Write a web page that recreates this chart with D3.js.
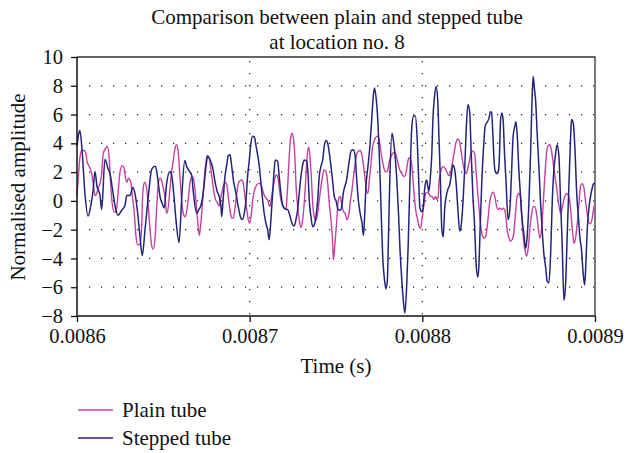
<!DOCTYPE html>
<html>
<head>
<meta charset="utf-8">
<script src="https://cdn.jsdelivr.net/npm/d3@7/dist/d3.min.js"></script>
<style>
  html, body { margin: 0; padding: 0; background: #fff; }
  svg { display: block; }
  text { font-family: "Liberation Serif", "Times New Roman", serif; fill: #111; }
</style>
</head>
<body>
<svg id="chart" width="627" height="453"></svg>
<script>
// Plain tube: time (microseconds) and normalised amplitude
const plainTimeUs = [
  8600.0, 8600.8, 8601.7, 8602.7, 8604.1, 8605.2, 8605.8, 8607.1, 8608.5, 8609.4,
  8610.4, 8611.4, 8612.3, 8613.3, 8614.3, 8615.2, 8616.6, 8617.5, 8618.7, 8619.5,
  8620.4, 8621.8, 8623.0, 8623.9, 8624.9, 8626.2, 8627.2, 8628.2, 8629.0, 8629.7,
  8630.7, 8631.3, 8632.0, 8633.0, 8634.2, 8635.1, 8636.5, 8637.5, 8638.0, 8638.8,
  8639.4, 8640.4, 8641.3, 8642.3, 8643.3, 8644.2, 8645.2, 8646.1, 8647.1, 8648.1,
  8649.0, 8650.0, 8651.0, 8651.9, 8652.9, 8653.8, 8654.8, 8655.8, 8656.7, 8657.7,
  8658.7, 8659.6, 8660.6, 8661.5, 8662.5, 8663.5, 8664.4, 8665.4, 8666.4, 8667.3,
  8668.3, 8669.3, 8670.2, 8670.8, 8671.6, 8672.5, 8673.5, 8674.5, 8675.4, 8676.6,
  8677.4, 8678.3, 8679.3, 8680.3, 8681.2, 8682.4, 8682.8, 8683.8, 8684.7, 8685.7,
  8686.7, 8687.6, 8688.6, 8689.6, 8690.5, 8691.5, 8692.5, 8693.4, 8694.4, 8695.4,
  8696.3, 8697.3, 8698.3, 8699.2, 8700.0, 8700.9, 8701.7, 8702.7, 8703.6, 8705.0,
  8706.5, 8707.5, 8708.4, 8709.4, 8710.4, 8711.7, 8712.7, 8713.7, 8714.6, 8715.6,
  8716.4, 8717.1, 8718.1, 8719.1, 8720.0, 8721.0, 8721.4, 8722.0, 8722.6, 8723.3,
  8723.9, 8724.5, 8725.5, 8726.2, 8726.8, 8727.8, 8728.7, 8729.7, 8730.7, 8731.6,
  8732.6, 8733.3, 8734.2, 8734.9, 8735.7, 8736.5, 8737.4, 8738.4, 8739.4, 8740.3,
  8741.3, 8742.3, 8743.2, 8744.2, 8745.2, 8746.1, 8747.1, 8748.1, 8748.5, 8749.4,
  8750.4, 8751.3, 8752.5, 8753.4, 8754.4, 8755.3, 8756.3, 8757.5, 8758.2, 8759.2,
  8760.2, 8761.0, 8762.0, 8762.9, 8764.0, 8765.0, 8766.0, 8766.8, 8767.7, 8768.5,
  8769.2, 8770.2, 8771.0, 8772.0, 8772.9, 8774.1, 8775.0, 8776.0, 8777.0, 8777.9,
  8778.9, 8779.9, 8780.8, 8781.8, 8782.8, 8784.0, 8784.9, 8785.9, 8786.8, 8787.8,
  8788.8, 8789.7, 8790.7, 8791.6, 8792.6, 8793.4, 8794.4, 8795.3, 8796.3, 8797.3,
  8798.2, 8799.0, 8799.9, 8800.9, 8801.9, 8802.8, 8803.8, 8804.8, 8805.7, 8806.7,
  8807.7, 8808.6, 8809.2, 8809.6, 8810.4, 8811.3, 8812.3, 8813.5, 8814.6, 8815.8,
  8816.7, 8817.7, 8818.7, 8819.6, 8820.6, 8821.6, 8822.5, 8823.5, 8824.5, 8825.4,
  8826.4, 8827.4, 8828.3, 8829.3, 8830.3, 8831.2, 8832.2, 8833.2, 8834.1, 8835.1,
  8836.1, 8837.0, 8838.0, 8839.0, 8839.9, 8841.0, 8842.0, 8843.0, 8843.9, 8844.9,
  8845.9, 8846.8, 8847.6, 8848.4, 8849.1, 8850.0, 8850.9, 8852.0, 8853.0, 8854.0,
  8854.9, 8855.9, 8856.7, 8857.5, 8858.4, 8859.4, 8860.4, 8861.3, 8862.3, 8863.3,
  8864.2, 8865.0, 8865.9, 8866.9, 8868.1, 8869.1, 8870.0, 8871.0, 8872.0, 8872.9,
  8873.9, 8874.9, 8875.8, 8876.8, 8877.8, 8878.7, 8880.1, 8881.0, 8882.0, 8883.0,
  8883.9, 8884.9, 8885.9, 8886.8, 8887.8, 8888.7, 8889.7, 8890.7, 8891.6, 8892.6,
  8893.6, 8894.5, 8895.5, 8896.4, 8897.4, 8898.4, 8899.3, 8900.0
];
const plainAmp = [
  0.3, 1.7, 3.0, 3.5, 3.5, 3.3, 2.75, 2.4, 1.9, 1.2,
  0.37, 0.5, 0.9, 1.2, 1.9, 3.3, 3.65, 3.8, 2.85, 1.2,
  -0.2, -0.8, -0.5, 0.7, 2.0, 2.45, 2.3, 1.5, 1.3, 1.6,
  1.45, 1.2, 0.4, -0.6, -2.5, -3.05, -3.0, -1.6, 0.3, 1.2,
  1.3, 0.8, -0.4, -2.0, -3.15, -3.35, -2.6, -0.6, 1.2, 1.6,
  1.4, 0.9, 0.2, -0.86, -0.4, 0.8, 2.0, 2.85, 3.6, 3.9,
  3.35, 1.7, 0.07, -0.86, -1.1, -0.75, 0.07, 1.2, 1.7, 1.6,
  0.8, -0.6, -1.8, -2.4, -1.7, -0.4, 1.2, 2.5, 3.15, 3.0,
  2.3, 1.5, 0.65, 0.07, -0.1, -0.35, -0.05, 0.5, 1.0, 1.3,
  1.15, 0.3, -0.6, -1.2, -1.2, -0.5, 0.5, 1.2, 1.4, 1.45,
  1.2, 0.3, -0.6, -1.3, -1.55, -1.0, 0.0, 0.7, 1.0, 1.2,
  1.2, 0.75, 0.4, 0.2, 0.07, -0.4, 0.3, 1.0, 1.6, 1.8,
  1.55, 0.95, 0.07, -0.3, -0.5, -0.6, -0.15, 1.0, 2.4, 3.8,
  4.5, 4.7, 4.2, 3.05, 1.2, -0.4, -1.3, -1.85, -1.3, -0.15,
  1.7, 3.1, 3.75, 3.1, 1.7, -0.15, -1.1, -1.35, -0.86, 0.07,
  1.0, 1.8, 2.15, 2.05, 1.2, -0.15, -1.3, -2.95, -4.1, -2.95,
  -1.45, 0.07, 0.3, -0.3, -0.75, -0.86, -1.3, -0.9, -0.1, 0.7,
  1.7, 2.5, 3.25, 3.45, 3.5, 3.2, 2.4, 1.6, 0.65, 0.53,
  1.3, 2.5, 3.6, 4.15, 4.4, 4.5, 4.25, 3.4, 2.7, 2.2,
  2.0, 2.1, 2.7, 3.05, 3.3, 3.4, 3.1, 2.65, 2.2, 1.95,
  1.75, 1.7, 2.05, 2.75, 3.0, 2.85, 1.8, 0.4, -0.75, -1.3,
  -1.8, -1.9, -1.2, -0.3, 0.5, 0.6, 0.5, 0.3, 0.3, 0.1,
  0.3, 0.1, 0.3, 1.2, 1.9, 2.3, 2.4, 2.2, 1.9, 1.75,
  2.15, 2.85, 3.55, 4.1, 4.3, 4.1, 3.4, 2.6, 2.1, 1.9,
  2.3, 2.85, 3.4, 3.45, 3.3, 1.9, 0.4, -1.0, -2.0, -2.5,
  -2.6, -2.3, -1.3, -0.1, 0.4, 0.6, 0.3, -0.4, -0.6, -0.5,
  -0.6, -0.5, -0.6, -1.1, -2.0, -2.5, -2.8, -2.7, -2.2, -0.8,
  0.3, 0.53, 0.3, -1.0, -2.4, -3.4, -3.85, -3.3, -1.9, -0.9,
  -0.4, -0.4, -0.7, -1.6, -2.6, -1.9, -0.2, 1.8, 3.4, 3.85,
  3.9, 3.4, 2.6, 1.7, 0.9, 0.0, -0.86, -0.5, 0.1, 0.45,
  0.5, 0.3, -0.6, -1.9, -2.95, -2.6, -1.6, -0.2, 1.0, 1.2,
  0.9, 0.0, -0.9, -1.5, -1.6, -1.2, -0.5, -0.2
];

// Stepped tube: time (microseconds) and normalised amplitude
const steppedTimeUs = [
  8600.0, 8600.9, 8601.7, 8602.9, 8604.6, 8606.4, 8607.9, 8609.4, 8610.4, 8611.6,
  8613.3, 8614.3, 8616.2, 8618.1, 8619.1, 8620.8, 8622.3, 8623.7, 8625.9, 8627.8,
  8628.8, 8630.7, 8632.3, 8633.6, 8634.9, 8636.5, 8637.8, 8639.4, 8641.3, 8643.3,
  8645.2, 8646.1, 8647.1, 8648.1, 8649.4, 8650.5, 8651.9, 8653.8, 8654.8, 8655.8,
  8657.3, 8659.1, 8660.6, 8662.4, 8663.5, 8665.4, 8666.4, 8667.3, 8669.3, 8670.6,
  8671.8, 8672.8, 8673.7, 8674.7, 8675.7, 8677.0, 8678.6, 8679.9, 8681.2, 8682.4,
  8683.4, 8683.8, 8684.7, 8685.7, 8686.7, 8687.6, 8688.6, 8689.6, 8690.5, 8692.1,
  8693.4, 8694.4, 8695.7, 8696.9, 8697.9, 8698.8, 8699.8, 8700.7, 8701.7, 8702.7,
  8703.6, 8704.6, 8705.6, 8706.5, 8707.5, 8708.4, 8709.4, 8710.4, 8711.3, 8712.3,
  8713.3, 8714.2, 8714.8, 8716.2, 8717.1, 8718.1, 8719.1, 8720.0, 8721.0, 8722.0,
  8722.9, 8723.9, 8724.9, 8725.8, 8726.8, 8727.8, 8728.7, 8729.7, 8730.7, 8731.6,
  8733.0, 8733.9, 8734.5, 8735.5, 8736.5, 8737.4, 8738.4, 8739.4, 8740.3, 8741.3,
  8742.3, 8743.2, 8744.2, 8745.2, 8746.1, 8747.1, 8748.1, 8749.0, 8750.0, 8751.3,
  8752.5, 8753.3, 8754.2, 8756.2, 8757.7, 8758.8, 8760.0, 8761.0, 8762.0, 8762.9,
  8763.9, 8765.0, 8765.9, 8766.6, 8767.3, 8768.5, 8769.7, 8770.6, 8771.6, 8772.3,
  8773.1, 8774.3, 8775.3, 8776.2, 8777.2, 8778.2, 8778.9, 8779.7, 8780.5, 8781.2,
  8782.4, 8783.0, 8784.0, 8785.3, 8786.3, 8787.0, 8788.0, 8788.9, 8789.9, 8790.9,
  8791.8, 8792.8, 8794.0, 8795.0, 8795.9, 8796.9, 8797.8, 8798.6, 8799.6, 8800.3,
  8801.5, 8802.5, 8803.2, 8803.8, 8804.8, 8805.5, 8806.1, 8807.1, 8808.0, 8809.0,
  8809.6, 8810.4, 8811.3, 8812.1, 8812.9, 8813.8, 8814.8, 8815.8, 8816.7, 8817.7,
  8818.7, 8819.6, 8820.6, 8821.6, 8822.5, 8823.5, 8824.5, 8825.4, 8826.4, 8827.4,
  8828.3, 8829.3, 8830.3, 8831.2, 8832.2, 8832.8, 8833.5, 8834.5, 8835.5, 8836.4,
  8837.4, 8838.5, 8839.5, 8840.1, 8840.9, 8841.4, 8842.2, 8843.2, 8844.2, 8844.7,
  8845.3, 8846.1, 8846.8, 8847.6, 8848.4, 8849.7, 8850.7, 8851.5, 8852.6, 8853.6,
  8854.2, 8854.9, 8855.9, 8856.9, 8857.8, 8858.8, 8859.8, 8860.7, 8861.7, 8862.7,
  8863.6, 8864.2, 8865.0, 8865.6, 8866.5, 8867.5, 8868.5, 8869.4, 8870.4, 8871.4,
  8872.3, 8873.3, 8874.3, 8875.2, 8876.2, 8877.2, 8878.1, 8879.1, 8880.1, 8881.0,
  8882.0, 8883.0, 8883.9, 8884.9, 8885.9, 8886.4, 8887.4, 8888.3, 8889.5, 8890.5,
  8891.2, 8892.2, 8893.0, 8894.0, 8894.7, 8895.5, 8896.4, 8897.4, 8898.4, 8899.3,
  8900.0
];
const steppedAmp = [
  3.8, 4.6, 4.9, 3.6, 0.5, -1.05, -0.4, 0.8, 2.05, 1.0,
  0.4, -0.6, 2.9, 2.2, 1.9, 0.6, -0.5, -1.0, -0.65, -0.3,
  0.37, 0.37, 0.95, 0.5, -0.6, -2.5, -3.8, -2.0, 0.3, 2.2,
  2.4, 2.1, 1.2, 0.3, -0.2, -0.5, 1.2, 2.05, 1.8, 0.8,
  -1.3, -2.9, 0.1, 2.8, 2.4, 2.0, 1.8, 0.7, -0.86, -0.6,
  -0.3, 0.3, 1.2, 2.4, 3.1, 2.85, 2.3, 1.35, 0.65, 0.3,
  -0.4, -1.1, 0.2, 1.7, 2.5, 3.15, 3.2, 2.4, 1.5, 0.5,
  -0.4, -1.0, -1.3, -0.85, 0.07, 1.7, 2.85, 4.0, 4.5, 4.45,
  3.9, 3.2, 2.4, 1.25, 0.07, -0.86, -1.55, -2.0, -2.7, -1.3,
  0.53, 2.16, 2.85, 2.75, 1.7, 0.53, -0.3, -0.5, -0.58, -0.6,
  -0.86, -1.3, -1.67, -1.75, -1.3, -0.6, 0.53, 1.7, 2.5, 2.85,
  2.75, 1.7, 0.07, -1.1, -1.8, -1.67, -1.1, 0.07, 1.7, 2.4,
  2.85, 3.8, 4.2, 4.0, 3.35, 2.4, 1.3, 0.3, 0.0, -0.6,
  -0.65, -0.4, 0.5, 1.5, 2.8, 3.5, 3.55, 3.2, 1.5, 0.1,
  -0.8, -1.5, -2.4, -1.0, 0.9, 2.4, 3.9, 5.5, 7.3, 7.85,
  7.3, 5.4, 2.5, -0.95, -4.2, -5.6, -6.1, -5.6, -1.9, 1.6,
  4.7, 4.4, 3.4, 1.3, -1.1, -3.2, -5.3, -6.8, -7.8, -6.0,
  -3.1, 1.3, 5.3, 5.9, 5.9, 4.6, 1.8, -0.5, -0.75, -0.6,
  1.0, 1.45, 1.0, 0.65, 1.9, 3.3, 5.6, 7.3, 7.95, 6.8,
  4.5, 1.7, -2.0, -2.5, -0.6, 0.3, 0.8, 1.1, 1.7, 2.5,
  2.2, 1.2, -0.6, -2.1, -1.7, -0.2, 2.15, 4.9, 6.7, 6.2,
  3.3, 0.3, -1.8, -4.5, -5.3, -4.4, -1.8, 1.5, 3.8, 5.2,
  5.45, 5.7, 6.2, 6.15, 4.5, 3.1, 2.05, 1.9, 2.15, 3.3,
  5.6, 6.1, 5.6, 3.3, 1.5, -1.3, -0.6, 1.45, 4.5, 5.2,
  5.5, 4.7, 2.15, 0.3, -1.3, -2.3, -3.3, -2.5, -0.2, 3.3,
  7.3, 8.65, 7.7, 7.0, 4.7, 2.4, -0.2, -2.0, -3.7, -4.6,
  -5.6, -5.7, -3.7, -0.2, 2.2, 3.3, 3.9, 3.1, -0.2, -3.0,
  -6.9, -5.7, -2.4, 1.1, 4.5, 5.65, 5.4, 3.8, 0.3, -1.3,
  -2.5, -3.4, -4.8, -5.85, -4.4, -2.0, -0.6, 0.3, 0.9, 1.2,
  1.2
];

// Axis ticks and legend entries
const xTicks = [0.0086, 0.0087, 0.0088, 0.0089];
const yTicks = [-8, -6, -4, -2, 0, 2, 4, 6, 8, 10];
const gridY = [-6, -4, -2, 0, 2, 4, 6, 8];
const gridX = [0.0087, 0.0088];
const seriesNames = ["Plain tube", "Stepped tube"];
const seriesColors = ["#c4419f", "#23237a"];

const svg = d3.select("#chart");
const W = 627, H = 453;
const plot = { left: 77, right: 595, top: 57, bottom: 316 };

svg.append("rect").attr("width", W).attr("height", H).attr("fill", "#fff");

const x = d3.scaleLinear().domain([0.0086, 0.0089]).range([plot.left, plot.right]);
const y = d3.scaleLinear().domain([-8, 10]).range([plot.bottom, plot.top]);

// Title
const title = svg.append("text")
  .attr("text-anchor", "middle")
  .style("font-size", "21px");
title.append("tspan").attr("x", 337).attr("y", 24).text("Comparison between plain and stepped tube");
title.append("tspan").attr("x", 337).attr("y", 49).text("at location no. 8");

// Dotted grid
const grid = svg.append("g")
  .attr("stroke", "#222")
  .attr("stroke-width", 1.2)
  .attr("stroke-dasharray", "1.2,10.8")
  .attr("fill", "none");
grid.selectAll("line.h").data(gridY).join("line")
  .attr("class", "h")
  .attr("x1", plot.left + 12).attr("x2", plot.right)
  .attr("y1", d => y(d)).attr("y2", d => y(d));
grid.selectAll("line.v").data(gridX).join("line")
  .attr("class", "v")
  .attr("x1", d => x(d)).attr("x2", d => x(d))
  .attr("y1", plot.top + 4).attr("y2", plot.bottom);

// Frame: top and right edges
svg.append("path")
  .attr("d", `M${plot.left},${plot.top}H${plot.right}V${plot.bottom}`)
  .attr("fill", "none")
  .attr("stroke", "#333")
  .attr("stroke-width", 1.3);

// Series lines
const line = d3.line()
  .x(d => x(d[0] * 1e-6))
  .y(d => y(d[1]))
  .curve(d3.curveMonotoneX);

const plainData = plainTimeUs.map((t, i) => [t, plainAmp[i]]);
const steppedData = steppedTimeUs.map((t, i) => [t, steppedAmp[i]]);

svg.append("path")
  .datum(plainData)
  .attr("d", line)
  .attr("fill", "none")
  .attr("stroke", seriesColors[0])
  .attr("stroke-width", 1.4)
  .attr("stroke-linejoin", "round");

svg.append("path")
  .datum(steppedData)
  .attr("d", line)
  .attr("fill", "none")
  .attr("stroke", seriesColors[1])
  .attr("stroke-width", 1.5)
  .attr("stroke-linejoin", "round");

// Axes
const xAxis = svg.append("g")
  .attr("transform", `translate(0,${plot.bottom})`)
  .call(d3.axisBottom(x).tickValues(xTicks).tickFormat(d3.format(".4f")).tickSize(6).tickPadding(6));
const yAxis = svg.append("g")
  .attr("transform", `translate(${plot.left},0)`)
  .call(d3.axisLeft(y).tickValues(yTicks).tickFormat(d3.format("d")).tickSize(6).tickPadding(8));

[xAxis, yAxis].forEach(g => {
  g.select(".domain").attr("stroke", "#111").attr("stroke-width", 1.5);
  g.selectAll(".tick line").attr("stroke", "#111").attr("stroke-width", 1.3);
  g.selectAll(".tick text")
    .style("font-family", '"Liberation Serif", "Times New Roman", serif')
    .style("font-size", "20.5px")
    .attr("fill", "#111");
});
xAxis.select(".domain").attr("d", `M${plot.left},0H${plot.right}`);
yAxis.select(".domain").attr("d", `M0,${plot.top}V${plot.bottom}`);

// Axis titles
svg.append("text")
  .attr("text-anchor", "middle")
  .attr("x", 336).attr("y", 373)
  .style("font-size", "21px")
  .text("Time (s)");
svg.append("text")
  .attr("text-anchor", "middle")
  .attr("transform", "translate(25,187) rotate(-90)")
  .style("font-size", "21px")
  .text("Normalised amplitude");

// Legend
const legend = svg.append("g");
const legendRows = legend.selectAll("g").data(seriesNames).join("g")
  .attr("transform", (d, i) => `translate(78,${410 + i * 28})`);
legendRows.append("line")
  .attr("x1", 0).attr("x2", 35).attr("y1", 0).attr("y2", 0)
  .attr("stroke", (d, i) => seriesColors[i])
  .attr("stroke-width", 1.4);
legendRows.append("text")
  .attr("x", 44).attr("y", 7)
  .style("font-size", "21px")
  .text(d => d);
</script>
</body>
</html>
